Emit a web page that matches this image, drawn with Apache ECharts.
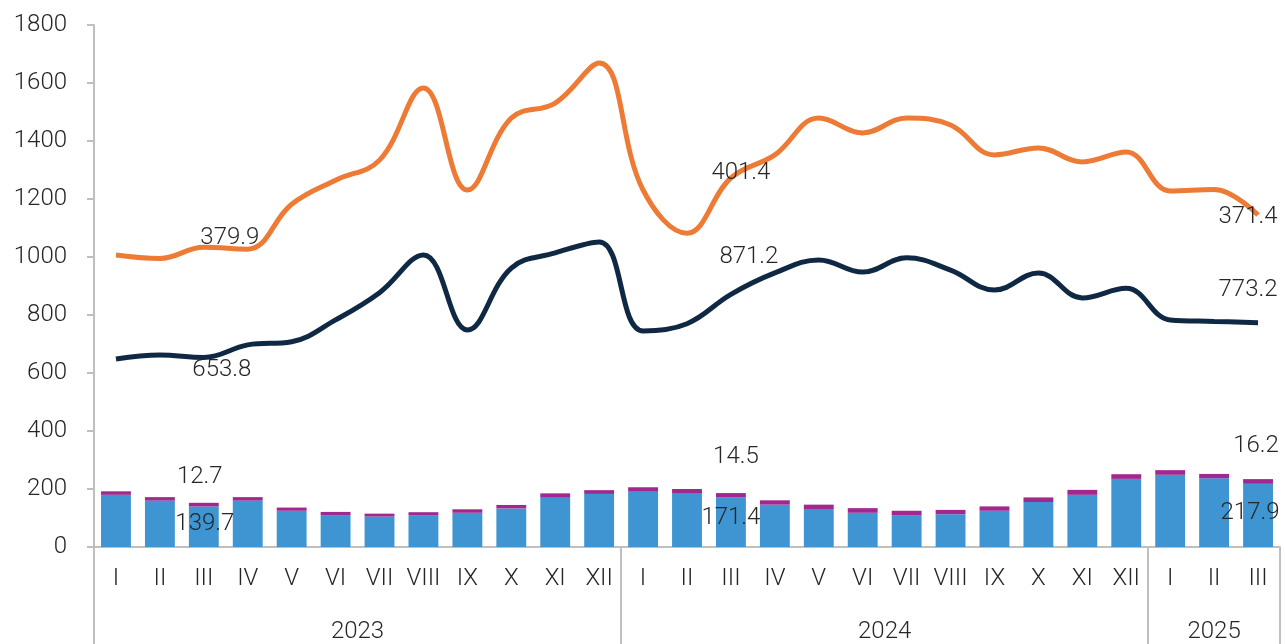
<!DOCTYPE html>
<html>
<head>
<meta charset="utf-8">
<script src="https://cdn.jsdelivr.net/npm/echarts@6/dist/echarts.min.js"></script>
<style>
  html, body { margin: 0; padding: 0; background: #fff; }
  #chart { width: 1285px; height: 644px; }
</style>
</head>
<body>
<div id="chart"></div>
<script>
// month labels and years (multi-level category axis)
const months = ['I','II','III','IV','V','VI','VII','VIII','IX','X','XI','XII',
                'I','II','III','IV','V','VI','VII','VIII','IX','X','XI','XII',
                'I','II','III']
const years = ['2023', '2024', '2025']
const monthsPerYear = [12, 12, 3]

// stacked bars
const barLower = [180, 160, 139.7, 160, 125, 110, 105, 110, 118, 133, 172, 183,
                  191, 186, 171.4, 146, 131, 118, 110, 113, 125, 155, 180, 235,
                  249, 237, 217.9]
const barUpper = [12, 12, 12.7, 12, 11, 11, 10, 10, 12, 12, 13, 13,
                  15, 14, 14.5, 15, 15, 16, 15, 15, 15, 16, 17, 16,
                  16, 15, 16.2]

// stacked lines (orange line = navy + difference)
const lineLower = [648, 662, 653.8, 697, 708, 783, 877, 1007, 748, 962, 1014, 1052,
                   745, 770, 871.2, 945, 990, 948, 997, 955, 886, 945, 859, 892,
                   783, 778, 773.2]
const lineUpper = [359, 333, 379.9, 330, 474, 482, 457, 576, 483, 517, 517, 617,
                   486, 312, 401.4, 407, 489, 480, 482, 500, 466, 431, 469, 470,
                   445, 455, 371.4]

// which points carry a data label
const labelled = [2, 14, 26]

const fontFamily = 'Roboto'
const fontSize = 24
const textColor = '#262626'
const axisColor = '#bfbfbf'

let chartDom = document.getElementById('chart')
let myChart = echarts.init(chartDom, null, {width: 1285, height: 644})

function withLabels(values, offsets) {
    return values.map((v, i) => {
        let k = labelled.indexOf(i)
        if (k === -1) {
            return v
        }
        return {
            value: v,
            label: {
                show: true,
                position: 'inside',
                offset: offsets[k],
                fontFamily: fontFamily,
                fontWeight: 300,
                fontSize: fontSize,
                color: textColor
            }
        }
    })
}

// year tick positions (boundaries) and label positions (centres)
let yearBounds = [0]
let yearCentres = []
monthsPerYear.forEach((n) => {
    let start = yearBounds[yearBounds.length - 1]
    yearBounds.push(start + n)
    yearCentres.push(start + n / 2)
})

let option = {
    animation: false,
    grid: {left: 94, right: 5, top: 25, bottom: 97, containLabel: false},
    xAxis: [
        {
            type: 'category',
            data: months,
            boundaryGap: true,
            axisLine: {show: true, lineStyle: {color: axisColor, width: 2}},
            axisTick: {show: false},
            axisLabel: {
                interval: 0,
                margin: 20,
                fontFamily: fontFamily,
                fontWeight: 300,
                fontSize: fontSize,
                color: textColor
            },
            splitLine: {show: false}
        },
        {
            type: 'value',
            position: 'bottom',
            min: 0,
            max: months.length,
            axisLine: {show: false},
            axisTick: {
                show: true,
                customValues: yearBounds,
                length: 97,
                lineStyle: {color: axisColor, width: 2}
            },
            axisLabel: {
                show: true,
                customValues: yearCentres,
                margin: 73,
                formatter: (v) => years[yearCentres.indexOf(v)],
                fontFamily: fontFamily,
                fontWeight: 300,
                fontSize: fontSize,
                color: textColor
            },
            splitLine: {show: false}
        }
    ],
    yAxis: {
        type: 'value',
        min: 0,
        max: 1800,
        interval: 200,
        axisLine: {show: true, lineStyle: {color: axisColor, width: 2}},
        axisTick: {show: true, length: 7, lineStyle: {color: axisColor, width: 2}},
        axisLabel: {
            margin: 27,
            formatter: (v) => String(v),
            fontFamily: fontFamily,
            fontWeight: 300,
            fontSize: fontSize,
            color: textColor
        },
        splitLine: {show: false}
    },
    series: [
        {
            name: 'bar lower',
            type: 'bar',
            stack: 'bars',
            barWidth: '68%',
            itemStyle: {color: '#3e95d1'},
            data: withLabels(barLower, [[1, -3], [0, -4], [-8, -2]])
        },
        {
            name: 'bar upper',
            type: 'bar',
            stack: 'bars',
            barWidth: '68%',
            itemStyle: {color: '#a0288f'},
            data: withLabels(barUpper, [[-4, -28], [5, -38], [-2, -35]])
        },
        {
            name: 'line lower',
            type: 'line',
            stack: 'lines',
            smooth: 0.4,
            symbolSize: 0,
            lineStyle: {color: '#0f2944', width: 5},
            itemStyle: {color: '#0f2944'},
            z: 3,
            data: withLabels(lineLower, [[18, 13], [18, -37], [-10, -33]])
        },
        {
            name: 'line upper',
            type: 'line',
            stack: 'lines',
            smooth: 0.4,
            symbolSize: 0,
            lineStyle: {color: '#ed7a35', width: 5},
            itemStyle: {color: '#ed7a35'},
            z: 3,
            data: withLabels(lineUpper, [[26, -9], [10, -5], [-10, 2]])
        }
    ]
}

myChart.setOption(option)

window.addEventListener('resize', () => {
    myChart.resize()
})
</script>
</body>
</html>
